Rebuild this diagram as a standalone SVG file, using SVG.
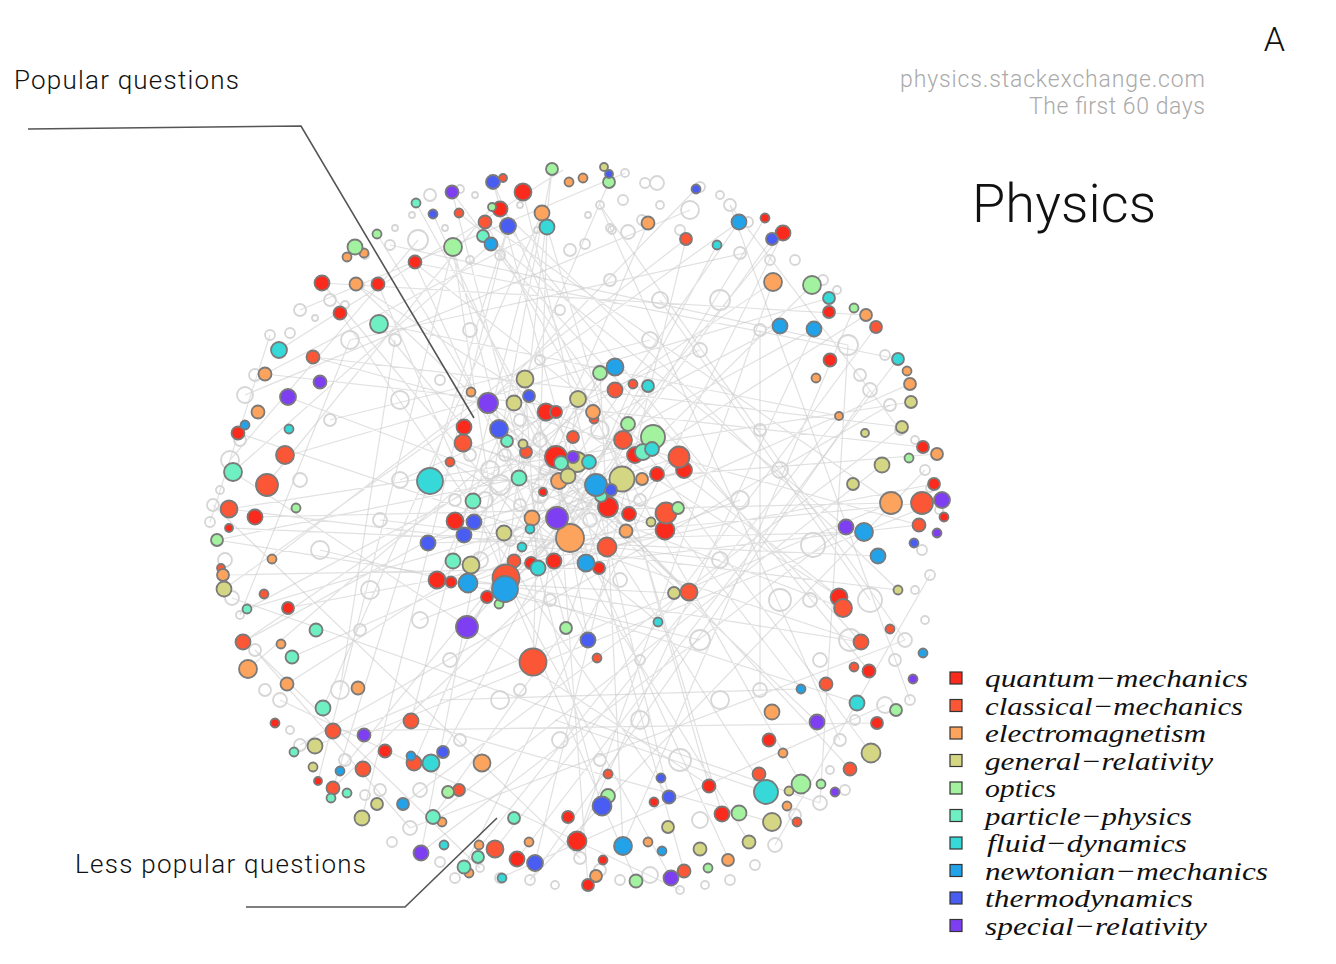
<svg xmlns="http://www.w3.org/2000/svg" width="1336" height="964" viewBox="0 0 1336 964">
<style>
.e{fill:none;stroke:#c4c4c4;stroke-opacity:.5;stroke-width:1.2}
.g{fill:none;stroke:#d6d6d6;stroke-width:1.8}
.n{stroke:#7a7a7a;stroke-width:1.8}
.qm{fill:#fa2a1c}.cm{fill:#fb5636}.em{fill:#fca45e}.gr{fill:#d4d684}.op{fill:#a2f2a0}
.pp{fill:#6ef0c2}.fd{fill:#36d8d8}.nm{fill:#22a2e8}.th{fill:#4a5df2}.sr{fill:#7e3ff2}
.sans{font-family:Roboto,"Liberation Sans",Arial,sans-serif;font-weight:300}
.leg{font-family:"Liberation Serif","Times New Roman",serif;font-style:italic;font-size:26px;fill:#111}
.sq{stroke:#333;stroke-width:1.2}
.ann{fill:none;stroke:#555;stroke-width:1.6}
</style>
<rect width="1336" height="964" fill="#fff"/>
<g id="connectors">
<path class="e" d="M552 169L505 589M609 182L437 580M493 182L623 479M523 192L669 797M452 192L566 628M416 203L556 457M433 214L729 860M459 213L846 527M492 207L266 485M500 209L898 590M485 222L891 503M508 226L330 798M542 213L411 721M547 227L533 662M483 236L861 642M491 244L233 472M453 247L601 806M648 223L414 763M696 189L488 403M686 239L272 559M717 245L443 752M739 222L534 518M765 218L569 537M783 233L464 867M772 239L595 485M773 282L243 642M812 285L505 589M829 298L283 457M854 308L623 846M866 315L322 283M876 327L658 622M780 326L247 609M814 329L577 841M898 359L415 263M910 384L292 657M911 402L229 509M839 416L379 324M902 427L313 357M923 447L265 374M937 454L582 482M882 465L433 817M934 484L288 608M891 503L255 517M922 503L570 537M942 500L364 735M919 525L537 568M846 527L420 853M864 532L428 543M878 556L229 528M839 597L415 263M843 608L288 397M861 642L217 540M869 671L492 207M857 703L505 589M877 723L333 731M871 753L452 192M850 769L607 507M801 784L485 222M817 722L356 284M801 689L664 513M766 792L568 476M772 822L411 721M749 842L377 234M722 814L547 227M709 786L623 479M684 871L493 182M671 878L506 578M636 881L378 284M623 846L600 373M588 885L556 457M577 841L773 282M535 863L686 239M517 859L898 359M495 849L839 416M464 867L658 622M421 853L552 169M433 817L566 628M403 804L902 427M362 818L508 226M333 788L679 457M318 781L453 247M340 771L783 233M315 746L891 503M323 708L542 213M287 684L866 315M248 669L546 412M243 642L814 329M247 609L557 518M224 589L739 222M223 575L598 568M217 540L634 455M229 509L898 590M233 472L710 786M238 433L861 642M265 374L547 227M279 350L563 170M313 357L919 525M322 283L554 561M340 313L669 797M356 284L839 597M379 324L464 427M415 263L588 640M453 248L505 589"/>
<path class="e" d="M430 481L623 479M463 443L595 485M499 429L665 530M525 379L537 568M488 403L608 507M546 412L468 583M578 399L506 578M615 367L463 535M600 373L455 521M654 437L473 501M679 457L474 522M685 470L428 543M657 474L504 533M634 455L437 580M608 507L488 403M629 514L546 412M666 513L463 443M665 530L519 478M626 531L514 403M607 547L499 429M586 563L525 379M554 561L633 384M531 563L648 386M468 583L678 508M505 589L654 437M487 597L623 479M467 627L595 485M533 662L578 399M588 640L559 481M566 628L610 490M689 592L470 392M674 593L451 582M658 622L530 518M570 537L450 462M557 518L685 470M543 492L600 373M561 463L689 592M589 462L467 627M519 478L665 530M400 480L700 350M380 520L720 560M420 620L740 500M330 420L650 340M320 550L700 640"/>
<path class="e" d="M555 720L766 792M440 700L801 689M390 245L848 345M600 205L905 640M730 205L910 700M848 345L820 803M905 640L410 828M925 470L530 880M820 803L232 598M690 210L245 395M890 405L300 745M270 335L210 522M213 505L580 858M410 828L255 650M530 880L870 390M680 890L280 700M840 740L600 205M230 460L418 240M255 650L480 868M500 878L885 705M775 845L930 575M900 430L730 205M745 253L350 340M625 173L300 310M350 340L240 615M760 330L760 690M395 340L340 690M660 300L870 600"/>
</g>
<g id="ghosts">
<circle class="g" cx="625" cy="173" r="4"/><circle class="g" cx="657" cy="183" r="7"/><circle class="g" cx="690" cy="210" r="9"/><circle class="g" cx="645" cy="183" r="5"/><circle class="g" cx="623" cy="200" r="5"/><circle class="g" cx="730" cy="205" r="6"/><circle class="g" cx="748" cy="222" r="5"/><circle class="g" cx="600" cy="205" r="4"/><circle class="g" cx="588" cy="215" r="3"/><circle class="g" cx="612" cy="230" r="4"/><circle class="g" cx="642" cy="220" r="5"/><circle class="g" cx="660" cy="205" r="4"/><circle class="g" cx="700" cy="187" r="5"/><circle class="g" cx="720" cy="195" r="4"/><circle class="g" cx="680" cy="230" r="5"/><circle class="g" cx="628" cy="232" r="7"/><circle class="g" cx="740" cy="253" r="6"/><circle class="g" cx="770" cy="260" r="5"/><circle class="g" cx="795" cy="260" r="5"/><circle class="g" cx="823" cy="280" r="5"/><circle class="g" cx="837" cy="290" r="4"/><circle class="g" cx="848" cy="345" r="10"/><circle class="g" cx="860" cy="375" r="6"/><circle class="g" cx="870" cy="390" r="7"/><circle class="g" cx="885" cy="355" r="5"/><circle class="g" cx="890" cy="405" r="6"/><circle class="g" cx="900" cy="430" r="5"/><circle class="g" cx="925" cy="470" r="5"/><circle class="g" cx="915" cy="440" r="4"/><circle class="g" cx="930" cy="488" r="4"/><circle class="g" cx="939" cy="510" r="4"/><circle class="g" cx="922" cy="550" r="5"/><circle class="g" cx="930" cy="575" r="5"/><circle class="g" cx="915" cy="590" r="4"/><circle class="g" cx="905" cy="640" r="7"/><circle class="g" cx="925" cy="620" r="4"/><circle class="g" cx="895" cy="660" r="6"/><circle class="g" cx="910" cy="700" r="5"/><circle class="g" cx="885" cy="705" r="8"/><circle class="g" cx="855" cy="720" r="5"/><circle class="g" cx="840" cy="740" r="6"/><circle class="g" cx="820" cy="803" r="7"/><circle class="g" cx="845" cy="790" r="5"/><circle class="g" cx="830" cy="770" r="4"/><circle class="g" cx="795" cy="815" r="6"/><circle class="g" cx="775" cy="845" r="7"/><circle class="g" cx="755" cy="865" r="5"/><circle class="g" cx="730" cy="880" r="5"/><circle class="g" cx="705" cy="885" r="4"/><circle class="g" cx="680" cy="890" r="4"/><circle class="g" cx="650" cy="875" r="8"/><circle class="g" cx="620" cy="880" r="5"/><circle class="g" cx="600" cy="870" r="6"/><circle class="g" cx="580" cy="858" r="6"/><circle class="g" cx="555" cy="885" r="4"/><circle class="g" cx="530" cy="880" r="5"/><circle class="g" cx="500" cy="878" r="5"/><circle class="g" cx="480" cy="868" r="4"/><circle class="g" cx="455" cy="878" r="5"/><circle class="g" cx="440" cy="862" r="5"/><circle class="g" cx="410" cy="828" r="7"/><circle class="g" cx="392" cy="842" r="5"/><circle class="g" cx="380" cy="790" r="6"/><circle class="g" cx="365" cy="795" r="5"/><circle class="g" cx="345" cy="760" r="6"/><circle class="g" cx="300" cy="745" r="6"/><circle class="g" cx="290" cy="730" r="4"/><circle class="g" cx="280" cy="700" r="7"/><circle class="g" cx="265" cy="690" r="6"/><circle class="g" cx="255" cy="650" r="6"/><circle class="g" cx="240" cy="615" r="4"/><circle class="g" cx="232" cy="598" r="7"/><circle class="g" cx="225" cy="560" r="7"/><circle class="g" cx="210" cy="522" r="5"/><circle class="g" cx="213" cy="505" r="6"/><circle class="g" cx="220" cy="490" r="4"/><circle class="g" cx="230" cy="460" r="9"/><circle class="g" cx="240" cy="440" r="6"/><circle class="g" cx="245" cy="395" r="8"/><circle class="g" cx="255" cy="375" r="6"/><circle class="g" cx="270" cy="335" r="5"/><circle class="g" cx="290" cy="333" r="5"/><circle class="g" cx="300" cy="310" r="6"/><circle class="g" cx="315" cy="318" r="3"/><circle class="g" cx="330" cy="300" r="6"/><circle class="g" cx="345" cy="305" r="4"/><circle class="g" cx="350" cy="340" r="9"/><circle class="g" cx="360" cy="285" r="4"/><circle class="g" cx="365" cy="255" r="4"/><circle class="g" cx="390" cy="245" r="5"/><circle class="g" cx="395" cy="228" r="3"/><circle class="g" cx="412" cy="215" r="3"/><circle class="g" cx="418" cy="240" r="10"/><circle class="g" cx="430" cy="195" r="6"/><circle class="g" cx="460" cy="189" r="4"/><circle class="g" cx="475" cy="195" r="3"/><circle class="g" cx="520" cy="205" r="3"/><circle class="g" cx="537" cy="230" r="3"/><circle class="g" cx="585" cy="244" r="5"/><circle class="g" cx="610" cy="228" r="4"/><circle class="g" cx="470" cy="260" r="4"/><circle class="g" cx="445" cy="228" r="3"/><circle class="g" cx="500" cy="255" r="5"/><circle class="g" cx="570" cy="250" r="6"/>
<circle class="g" cx="480" cy="560" r="8"/><circle class="g" cx="550" cy="600" r="6"/><circle class="g" cx="620" cy="580" r="7"/><circle class="g" cx="700" cy="640" r="10"/><circle class="g" cx="740" cy="500" r="9"/><circle class="g" cx="700" cy="350" r="7"/><circle class="g" cx="660" cy="300" r="8"/><circle class="g" cx="720" cy="300" r="10"/><circle class="g" cx="760" cy="330" r="6"/><circle class="g" cx="470" cy="330" r="7"/><circle class="g" cx="440" cy="380" r="5"/><circle class="g" cx="400" cy="480" r="8"/><circle class="g" cx="420" cy="620" r="8"/><circle class="g" cx="500" cy="700" r="9"/><circle class="g" cx="560" cy="740" r="8"/><circle class="g" cx="640" cy="720" r="9"/><circle class="g" cx="680" cy="760" r="11"/><circle class="g" cx="720" cy="700" r="9"/><circle class="g" cx="610" cy="280" r="6"/><circle class="g" cx="760" cy="430" r="6"/><circle class="g" cx="780" cy="470" r="8"/><circle class="g" cx="780" cy="600" r="11"/><circle class="g" cx="810" cy="600" r="7"/><circle class="g" cx="540" cy="360" r="5"/><circle class="g" cx="520" cy="690" r="6"/><circle class="g" cx="460" cy="740" r="6"/><circle class="g" cx="420" cy="790" r="7"/><circle class="g" cx="340" cy="690" r="9"/><circle class="g" cx="360" cy="630" r="6"/><circle class="g" cx="320" cy="550" r="9"/><circle class="g" cx="300" cy="480" r="7"/><circle class="g" cx="330" cy="420" r="6"/><circle class="g" cx="400" cy="400" r="9"/><circle class="g" cx="395" cy="340" r="6"/><circle class="g" cx="640" cy="660" r="5"/><circle class="g" cx="720" cy="560" r="8"/><circle class="g" cx="760" cy="690" r="7"/><circle class="g" cx="813" cy="545" r="12"/><circle class="g" cx="850" cy="640" r="11"/><circle class="g" cx="820" cy="660" r="7"/><circle class="g" cx="870" cy="600" r="12"/><circle class="g" cx="380" cy="520" r="7"/><circle class="g" cx="370" cy="590" r="9"/><circle class="g" cx="450" cy="660" r="7"/><circle class="g" cx="600" cy="760" r="6"/><circle class="g" cx="700" cy="820" r="8"/><circle class="g" cx="760" cy="790" r="6"/><circle class="g" cx="560" cy="310" r="5"/><circle class="g" cx="650" cy="340" r="8"/>
<circle class="g" cx="490" cy="470" r="9"/><circle class="g" cx="505" cy="455" r="6"/><circle class="g" cx="540" cy="440" r="7"/><circle class="g" cx="485" cy="500" r="8"/><circle class="g" cx="520" cy="505" r="6"/><circle class="g" cx="545" cy="470" r="5"/><circle class="g" cx="500" cy="485" r="10"/><circle class="g" cx="470" cy="455" r="6"/><circle class="g" cx="540" cy="495" r="8"/><circle class="g" cx="590" cy="520" r="7"/><circle class="g" cx="640" cy="500" r="6"/><circle class="g" cx="520" cy="420" r="6"/><circle class="g" cx="455" cy="500" r="6"/><circle class="g" cx="600" cy="430" r="9"/><circle class="g" cx="510" cy="540" r="6"/>
</g>
<g id="quantum-mechanics-nodes">
<circle class="n qm" cx="523" cy="192" r="8.5"/><circle class="n qm" cx="500" cy="209" r="7.5"/><circle class="n qm" cx="415" cy="262" r="6.5"/><circle class="n qm" cx="322" cy="283" r="7.5"/><circle class="n qm" cx="378" cy="284" r="6.5"/><circle class="n qm" cx="340" cy="313" r="6.5"/><circle class="n qm" cx="765" cy="218" r="4.5"/><circle class="n qm" cx="783" cy="233" r="7.5"/><circle class="n qm" cx="829" cy="312" r="6"/><circle class="n qm" cx="830" cy="360" r="6.5"/><circle class="n qm" cx="923" cy="447" r="6"/><circle class="n qm" cx="934" cy="484" r="6"/><circle class="n qm" cx="944" cy="517" r="4.5"/><circle class="n qm" cx="546" cy="412" r="8.5"/><circle class="n qm" cx="556" cy="412" r="6"/><circle class="n qm" cx="464" cy="427" r="7.5"/><circle class="n qm" cx="556" cy="457" r="11"/><circle class="n qm" cx="635" cy="455" r="8"/><circle class="n qm" cx="684" cy="470" r="8"/><circle class="n qm" cx="657" cy="474" r="7"/><circle class="n qm" cx="608" cy="507" r="10"/><circle class="n qm" cx="629" cy="514" r="7"/><circle class="n qm" cx="665" cy="530" r="9.5"/><circle class="n qm" cx="543" cy="492" r="4"/><circle class="n qm" cx="455" cy="521" r="8.5"/><circle class="n qm" cx="531" cy="563" r="6"/><circle class="n qm" cx="554" cy="561" r="7.5"/><circle class="n qm" cx="599" cy="568" r="6"/><circle class="n qm" cx="437" cy="580" r="8.5"/><circle class="n qm" cx="451" cy="582" r="5.5"/><circle class="n qm" cx="487" cy="597" r="6"/><circle class="n qm" cx="255" cy="517" r="7.5"/><circle class="n qm" cx="229" cy="528" r="4"/><circle class="n qm" cx="288" cy="608" r="6"/><circle class="n qm" cx="238" cy="433" r="6.5"/><circle class="n qm" cx="275" cy="723" r="4.5"/><circle class="n qm" cx="385" cy="751" r="6.5"/><circle class="n qm" cx="318" cy="781" r="4"/><circle class="n qm" cx="517" cy="859" r="7.5"/><circle class="n qm" cx="577" cy="841" r="9.5"/><circle class="n qm" cx="603" cy="860" r="4.5"/><circle class="n qm" cx="588" cy="885" r="6"/><circle class="n qm" cx="568" cy="817" r="6"/><circle class="n qm" cx="654" cy="802" r="4.5"/><circle class="n qm" cx="709" cy="786" r="6.5"/><circle class="n qm" cx="722" cy="814" r="7.5"/><circle class="n qm" cx="769" cy="740" r="6.5"/><circle class="n qm" cx="839" cy="597" r="8.5"/><circle class="n qm" cx="869" cy="671" r="6.5"/><circle class="n qm" cx="877" cy="723" r="6"/>
</g>
<g id="classical-mechanics-nodes">
<circle class="n cm" cx="503" cy="178" r="4"/><circle class="n cm" cx="459" cy="213" r="4.5"/><circle class="n cm" cx="485" cy="222" r="6.5"/><circle class="n cm" cx="686" cy="239" r="6"/><circle class="n cm" cx="876" cy="327" r="6"/><circle class="n cm" cx="615" cy="390" r="7.5"/><circle class="n cm" cx="633" cy="384" r="4.5"/><circle class="n cm" cx="594" cy="419" r="4.5"/><circle class="n cm" cx="573" cy="437" r="6"/><circle class="n cm" cx="623" cy="440" r="9"/><circle class="n cm" cx="679" cy="457" r="10.5"/><circle class="n cm" cx="666" cy="513" r="10.5"/><circle class="n cm" cx="526" cy="452" r="6"/><circle class="n cm" cx="463" cy="443" r="8.5"/><circle class="n cm" cx="450" cy="462" r="4.5"/><circle class="n cm" cx="607" cy="547" r="9.5"/><circle class="n cm" cx="514" cy="561" r="6.5"/><circle class="n cm" cx="506" cy="578" r="13.5"/><circle class="n cm" cx="689" cy="592" r="8.5"/><circle class="n cm" cx="533" cy="662" r="13.5"/><circle class="n cm" cx="597" cy="658" r="4.5"/><circle class="n cm" cx="313" cy="357" r="6.5"/><circle class="n cm" cx="285" cy="455" r="9"/><circle class="n cm" cx="267" cy="485" r="11"/><circle class="n cm" cx="229" cy="509" r="8.5"/><circle class="n cm" cx="221" cy="568" r="4"/><circle class="n cm" cx="264" cy="594" r="4.5"/><circle class="n cm" cx="243" cy="642" r="7.5"/><circle class="n cm" cx="411" cy="721" r="7.5"/><circle class="n cm" cx="333" cy="731" r="7.5"/><circle class="n cm" cx="414" cy="763" r="7.5"/><circle class="n cm" cx="363" cy="769" r="7.5"/><circle class="n cm" cx="333" cy="788" r="6.5"/><circle class="n cm" cx="459" cy="790" r="6"/><circle class="n cm" cx="495" cy="849" r="8.5"/><circle class="n cm" cx="608" cy="774" r="4.5"/><circle class="n cm" cx="684" cy="871" r="6.5"/><circle class="n cm" cx="759" cy="774" r="6.5"/><circle class="n cm" cx="797" cy="822" r="4.5"/><circle class="n cm" cx="850" cy="769" r="6.5"/><circle class="n cm" cx="826" cy="684" r="6.5"/><circle class="n cm" cx="854" cy="667" r="4.5"/><circle class="n cm" cx="861" cy="642" r="7.5"/><circle class="n cm" cx="890" cy="629" r="4.5"/><circle class="n cm" cx="843" cy="608" r="9"/><circle class="n cm" cx="919" cy="525" r="6.5"/><circle class="n cm" cx="922" cy="503" r="11"/>
</g>
<g id="electromagnetism-nodes">
<circle class="n em" cx="569" cy="182" r="4.5"/><circle class="n em" cx="583" cy="178" r="4.5"/><circle class="n em" cx="542" cy="213" r="7.5"/><circle class="n em" cx="648" cy="223" r="6.5"/><circle class="n em" cx="347" cy="257" r="4.5"/><circle class="n em" cx="364" cy="253" r="4.5"/><circle class="n em" cx="356" cy="284" r="6.5"/><circle class="n em" cx="265" cy="374" r="6.5"/><circle class="n em" cx="258" cy="412" r="6.5"/><circle class="n em" cx="471" cy="392" r="4.5"/><circle class="n em" cx="593" cy="412" r="7"/><circle class="n em" cx="642" cy="479" r="6"/><circle class="n em" cx="773" cy="282" r="9"/><circle class="n em" cx="866" cy="315" r="6"/><circle class="n em" cx="907" cy="371" r="4.5"/><circle class="n em" cx="910" cy="384" r="6"/><circle class="n em" cx="816" cy="378" r="4.5"/><circle class="n em" cx="839" cy="416" r="4"/><circle class="n em" cx="937" cy="454" r="6"/><circle class="n em" cx="891" cy="503" r="11"/><circle class="n em" cx="559" cy="481" r="8"/><circle class="n em" cx="532" cy="518" r="7.5"/><circle class="n em" cx="570" cy="538" r="14"/><circle class="n em" cx="626" cy="531" r="6.5"/><circle class="n em" cx="272" cy="559" r="4.5"/><circle class="n em" cx="223" cy="575" r="6"/><circle class="n em" cx="281" cy="644" r="4.5"/><circle class="n em" cx="248" cy="669" r="9"/><circle class="n em" cx="287" cy="684" r="6.5"/><circle class="n em" cx="358" cy="688" r="6.5"/><circle class="n em" cx="482" cy="763" r="8.5"/><circle class="n em" cx="442" cy="822" r="4.5"/><circle class="n em" cx="469" cy="873" r="4.5"/><circle class="n em" cx="479" cy="845" r="4.5"/><circle class="n em" cx="529" cy="842" r="4.5"/><circle class="n em" cx="596" cy="876" r="6"/><circle class="n em" cx="648" cy="842" r="4.5"/><circle class="n em" cx="728" cy="860" r="6"/><circle class="n em" cx="772" cy="712" r="7.5"/><circle class="n em" cx="783" cy="753" r="4.5"/><circle class="n em" cx="787" cy="806" r="4.5"/>
</g>
<g id="general-relativity-nodes">
<circle class="n gr" cx="604" cy="167" r="4"/><circle class="n gr" cx="525" cy="379" r="8.5"/><circle class="n gr" cx="514" cy="403" r="7.5"/><circle class="n gr" cx="578" cy="399" r="8"/><circle class="n gr" cx="523" cy="444" r="4.5"/><circle class="n gr" cx="577" cy="462" r="10"/><circle class="n gr" cx="568" cy="476" r="7.5"/><circle class="n gr" cx="622" cy="479" r="12.5"/><circle class="n gr" cx="651" cy="522" r="4.5"/><circle class="n gr" cx="504" cy="533" r="7.5"/><circle class="n gr" cx="471" cy="565" r="8.5"/><circle class="n gr" cx="674" cy="593" r="6"/><circle class="n gr" cx="911" cy="402" r="6"/><circle class="n gr" cx="902" cy="427" r="6"/><circle class="n gr" cx="865" cy="433" r="4"/><circle class="n gr" cx="882" cy="465" r="7.5"/><circle class="n gr" cx="853" cy="484" r="6"/><circle class="n gr" cx="898" cy="590" r="4.5"/><circle class="n gr" cx="224" cy="589" r="7.5"/><circle class="n gr" cx="315" cy="746" r="7.5"/><circle class="n gr" cx="313" cy="767" r="4.5"/><circle class="n gr" cx="377" cy="804" r="6"/><circle class="n gr" cx="362" cy="818" r="7.5"/><circle class="n gr" cx="668" cy="827" r="6"/><circle class="n gr" cx="700" cy="849" r="6.5"/><circle class="n gr" cx="749" cy="842" r="6.5"/><circle class="n gr" cx="772" cy="822" r="9"/><circle class="n gr" cx="789" cy="791" r="4.5"/><circle class="n gr" cx="871" cy="753" r="9.5"/>
</g>
<g id="optics-nodes">
<circle class="n op" cx="552" cy="169" r="6"/><circle class="n op" cx="609" cy="182" r="6"/><circle class="n op" cx="492" cy="207" r="4"/><circle class="n op" cx="453" cy="247" r="9"/><circle class="n op" cx="355" cy="247" r="7.5"/><circle class="n op" cx="377" cy="234" r="4.5"/><circle class="n op" cx="600" cy="373" r="7"/><circle class="n op" cx="628" cy="424" r="7"/><circle class="n op" cx="653" cy="437" r="12"/><circle class="n op" cx="678" cy="508" r="6"/><circle class="n op" cx="812" cy="285" r="9"/><circle class="n op" cx="854" cy="308" r="4.5"/><circle class="n op" cx="909" cy="458" r="4.5"/><circle class="n op" cx="296" cy="508" r="4.5"/><circle class="n op" cx="217" cy="540" r="6"/><circle class="n op" cx="499" cy="604" r="4.5"/><circle class="n op" cx="566" cy="628" r="6"/><circle class="n op" cx="448" cy="792" r="6"/><circle class="n op" cx="608" cy="796" r="7"/><circle class="n op" cx="636" cy="881" r="6.5"/><circle class="n op" cx="739" cy="813" r="7.5"/><circle class="n op" cx="801" cy="784" r="9.5"/><circle class="n op" cx="821" cy="784" r="4.5"/><circle class="n op" cx="896" cy="710" r="6"/><circle class="n op" cx="708" cy="868" r="4.5"/>
</g>
<g id="particle-physics-nodes">
<circle class="n pp" cx="416" cy="203" r="4.5"/><circle class="n pp" cx="483" cy="236" r="6"/><circle class="n pp" cx="379" cy="324" r="9"/><circle class="n pp" cx="233" cy="472" r="9"/><circle class="n pp" cx="507" cy="441" r="6"/><circle class="n pp" cx="519" cy="478" r="7.5"/><circle class="n pp" cx="473" cy="501" r="7.5"/><circle class="n pp" cx="453" cy="561" r="7.5"/><circle class="n pp" cx="561" cy="463" r="7"/><circle class="n pp" cx="601" cy="496" r="6"/><circle class="n pp" cx="643" cy="452" r="8"/><circle class="n pp" cx="247" cy="609" r="4.5"/><circle class="n pp" cx="316" cy="630" r="6.5"/><circle class="n pp" cx="292" cy="657" r="6.5"/><circle class="n pp" cx="323" cy="708" r="7.5"/><circle class="n pp" cx="294" cy="752" r="4.5"/><circle class="n pp" cx="331" cy="798" r="4.5"/><circle class="n pp" cx="347" cy="793" r="4.5"/><circle class="n pp" cx="433" cy="817" r="7"/><circle class="n pp" cx="514" cy="818" r="6"/><circle class="n pp" cx="478" cy="857" r="6"/><circle class="n pp" cx="464" cy="867" r="6.5"/>
</g>
<g id="fluid-dynamics-nodes">
<circle class="n fd" cx="547" cy="227" r="7.5"/><circle class="n fd" cx="717" cy="245" r="4.5"/><circle class="n fd" cx="829" cy="298" r="6"/><circle class="n fd" cx="898" cy="359" r="6"/><circle class="n fd" cx="279" cy="350" r="8"/><circle class="n fd" cx="289" cy="429" r="4.5"/><circle class="n fd" cx="648" cy="386" r="6"/><circle class="n fd" cx="652" cy="449" r="7"/><circle class="n fd" cx="589" cy="462" r="7"/><circle class="n fd" cx="430" cy="481" r="13"/><circle class="n fd" cx="530" cy="529" r="4.5"/><circle class="n fd" cx="522" cy="547" r="4.5"/><circle class="n fd" cx="538" cy="568" r="7.5"/><circle class="n fd" cx="658" cy="622" r="4.5"/><circle class="n fd" cx="431" cy="763" r="8.5"/><circle class="n fd" cx="444" cy="845" r="4.5"/><circle class="n fd" cx="502" cy="878" r="4.5"/><circle class="n fd" cx="766" cy="792" r="12"/><circle class="n fd" cx="857" cy="703" r="7.5"/>
</g>
<g id="newtonian-mechanics-nodes">
<circle class="n nm" cx="491" cy="244" r="6.5"/><circle class="n nm" cx="739" cy="222" r="7.5"/><circle class="n nm" cx="780" cy="326" r="7.5"/><circle class="n nm" cx="814" cy="329" r="7.5"/><circle class="n nm" cx="615" cy="367" r="8.5"/><circle class="n nm" cx="596" cy="485" r="11"/><circle class="n nm" cx="586" cy="563" r="8.5"/><circle class="n nm" cx="468" cy="583" r="9.5"/><circle class="n nm" cx="505" cy="589" r="13"/><circle class="n nm" cx="878" cy="556" r="7.5"/><circle class="n nm" cx="864" cy="532" r="9"/><circle class="n nm" cx="923" cy="653" r="4.5"/><circle class="n nm" cx="801" cy="689" r="4.5"/><circle class="n nm" cx="245" cy="425" r="4.5"/><circle class="n nm" cx="340" cy="771" r="4.5"/><circle class="n nm" cx="411" cy="756" r="4.5"/><circle class="n nm" cx="403" cy="804" r="6"/><circle class="n nm" cx="623" cy="846" r="9"/><circle class="n nm" cx="662" cy="851" r="4.5"/>
</g>
<g id="thermodynamics-nodes">
<circle class="n th" cx="493" cy="182" r="7"/><circle class="n th" cx="609" cy="174" r="4"/><circle class="n th" cx="433" cy="214" r="4.5"/><circle class="n th" cx="508" cy="226" r="8"/><circle class="n th" cx="696" cy="189" r="4.5"/><circle class="n th" cx="772" cy="239" r="6"/><circle class="n th" cx="529" cy="396" r="6"/><circle class="n th" cx="499" cy="429" r="9"/><circle class="n th" cx="611" cy="490" r="6"/><circle class="n th" cx="474" cy="522" r="7.5"/><circle class="n th" cx="464" cy="535" r="7.5"/><circle class="n th" cx="428" cy="543" r="7.5"/><circle class="n th" cx="588" cy="640" r="7.5"/><circle class="n th" cx="443" cy="752" r="6"/><circle class="n th" cx="535" cy="863" r="8"/><circle class="n th" cx="602" cy="806" r="9.5"/><circle class="n th" cx="661" cy="778" r="4.5"/><circle class="n th" cx="669" cy="797" r="6.5"/><circle class="n th" cx="914" cy="543" r="4.5"/>
</g>
<g id="special-relativity-nodes">
<circle class="n sr" cx="452" cy="192" r="6.5"/><circle class="n sr" cx="320" cy="382" r="6.5"/><circle class="n sr" cx="288" cy="397" r="8"/><circle class="n sr" cx="488" cy="403" r="10"/><circle class="n sr" cx="573" cy="457" r="6"/><circle class="n sr" cx="557" cy="518" r="11"/><circle class="n sr" cx="467" cy="627" r="11"/><circle class="n sr" cx="846" cy="527" r="7.5"/><circle class="n sr" cx="942" cy="500" r="8"/><circle class="n sr" cx="937" cy="533" r="4.5"/><circle class="n sr" cx="913" cy="679" r="4.5"/><circle class="n sr" cx="817" cy="722" r="7.5"/><circle class="n sr" cx="835" cy="792" r="4.5"/><circle class="n sr" cx="364" cy="735" r="6.5"/><circle class="n sr" cx="421" cy="853" r="7.5"/><circle class="n sr" cx="671" cy="878" r="7.5"/>
</g>
<g id="annotations">
<polyline class="ann" points="28,129 301,126 474,418"/>
<polyline class="ann" points="246,907 405,907 497,818"/>
<text class="sans" x="14" y="89" font-size="26" textLength="225" fill="#111">Popular questions</text>
<text class="sans" x="75" y="873" font-size="26" textLength="291" fill="#111">Less popular questions</text>
</g>
<g id="titles">
<text class="sans" x="1285" y="51" font-size="34" text-anchor="end" fill="#111">A</text>
<text class="sans" x="900" y="87" font-size="23" textLength="305" fill="#aaa">physics.stackexchange.com</text>
<text class="sans" x="1029" y="114" font-size="23" textLength="176" fill="#aaa">The first 60 days</text>
<text class="sans" x="972" y="222" font-size="54" textLength="184" fill="#111">Physics</text>
</g>
<g id="legend">
<rect class="sq qm" x="950" y="672" width="12" height="12"/>
<rect class="sq cm" x="950" y="699.5" width="12" height="12"/>
<rect class="sq em" x="950" y="727" width="12" height="12"/>
<rect class="sq gr" x="950" y="754.5" width="12" height="12"/>
<rect class="sq op" x="950" y="782" width="12" height="12"/>
<rect class="sq pp" x="950" y="809.5" width="12" height="12"/>
<rect class="sq fd" x="950" y="837" width="12" height="12"/>
<rect class="sq nm" x="950" y="864.5" width="12" height="12"/>
<rect class="sq th" x="950" y="892" width="12" height="12"/>
<rect class="sq sr" x="950" y="919.5" width="12" height="12"/>
<text class="leg" x="985" y="687" textLength="263" lengthAdjust="spacingAndGlyphs">quantum−mechanics</text>
<text class="leg" x="985" y="714.5" textLength="258" lengthAdjust="spacingAndGlyphs">classical−mechanics</text>
<text class="leg" x="985" y="742" textLength="221" lengthAdjust="spacingAndGlyphs">electromagnetism</text>
<text class="leg" x="985" y="769.5" textLength="228" lengthAdjust="spacingAndGlyphs">general−relativity</text>
<text class="leg" x="985" y="797" textLength="71" lengthAdjust="spacingAndGlyphs">optics</text>
<text class="leg" x="985" y="824.5" textLength="207" lengthAdjust="spacingAndGlyphs">particle−physics</text>
<text class="leg" x="987" y="852" textLength="200" lengthAdjust="spacingAndGlyphs">fluid−dynamics</text>
<text class="leg" x="985" y="879.5" textLength="283" lengthAdjust="spacingAndGlyphs">newtonian−mechanics</text>
<text class="leg" x="985" y="907" textLength="208" lengthAdjust="spacingAndGlyphs">thermodynamics</text>
<text class="leg" x="985" y="934.5" textLength="222" lengthAdjust="spacingAndGlyphs">special−relativity</text>
</g>
</svg>
